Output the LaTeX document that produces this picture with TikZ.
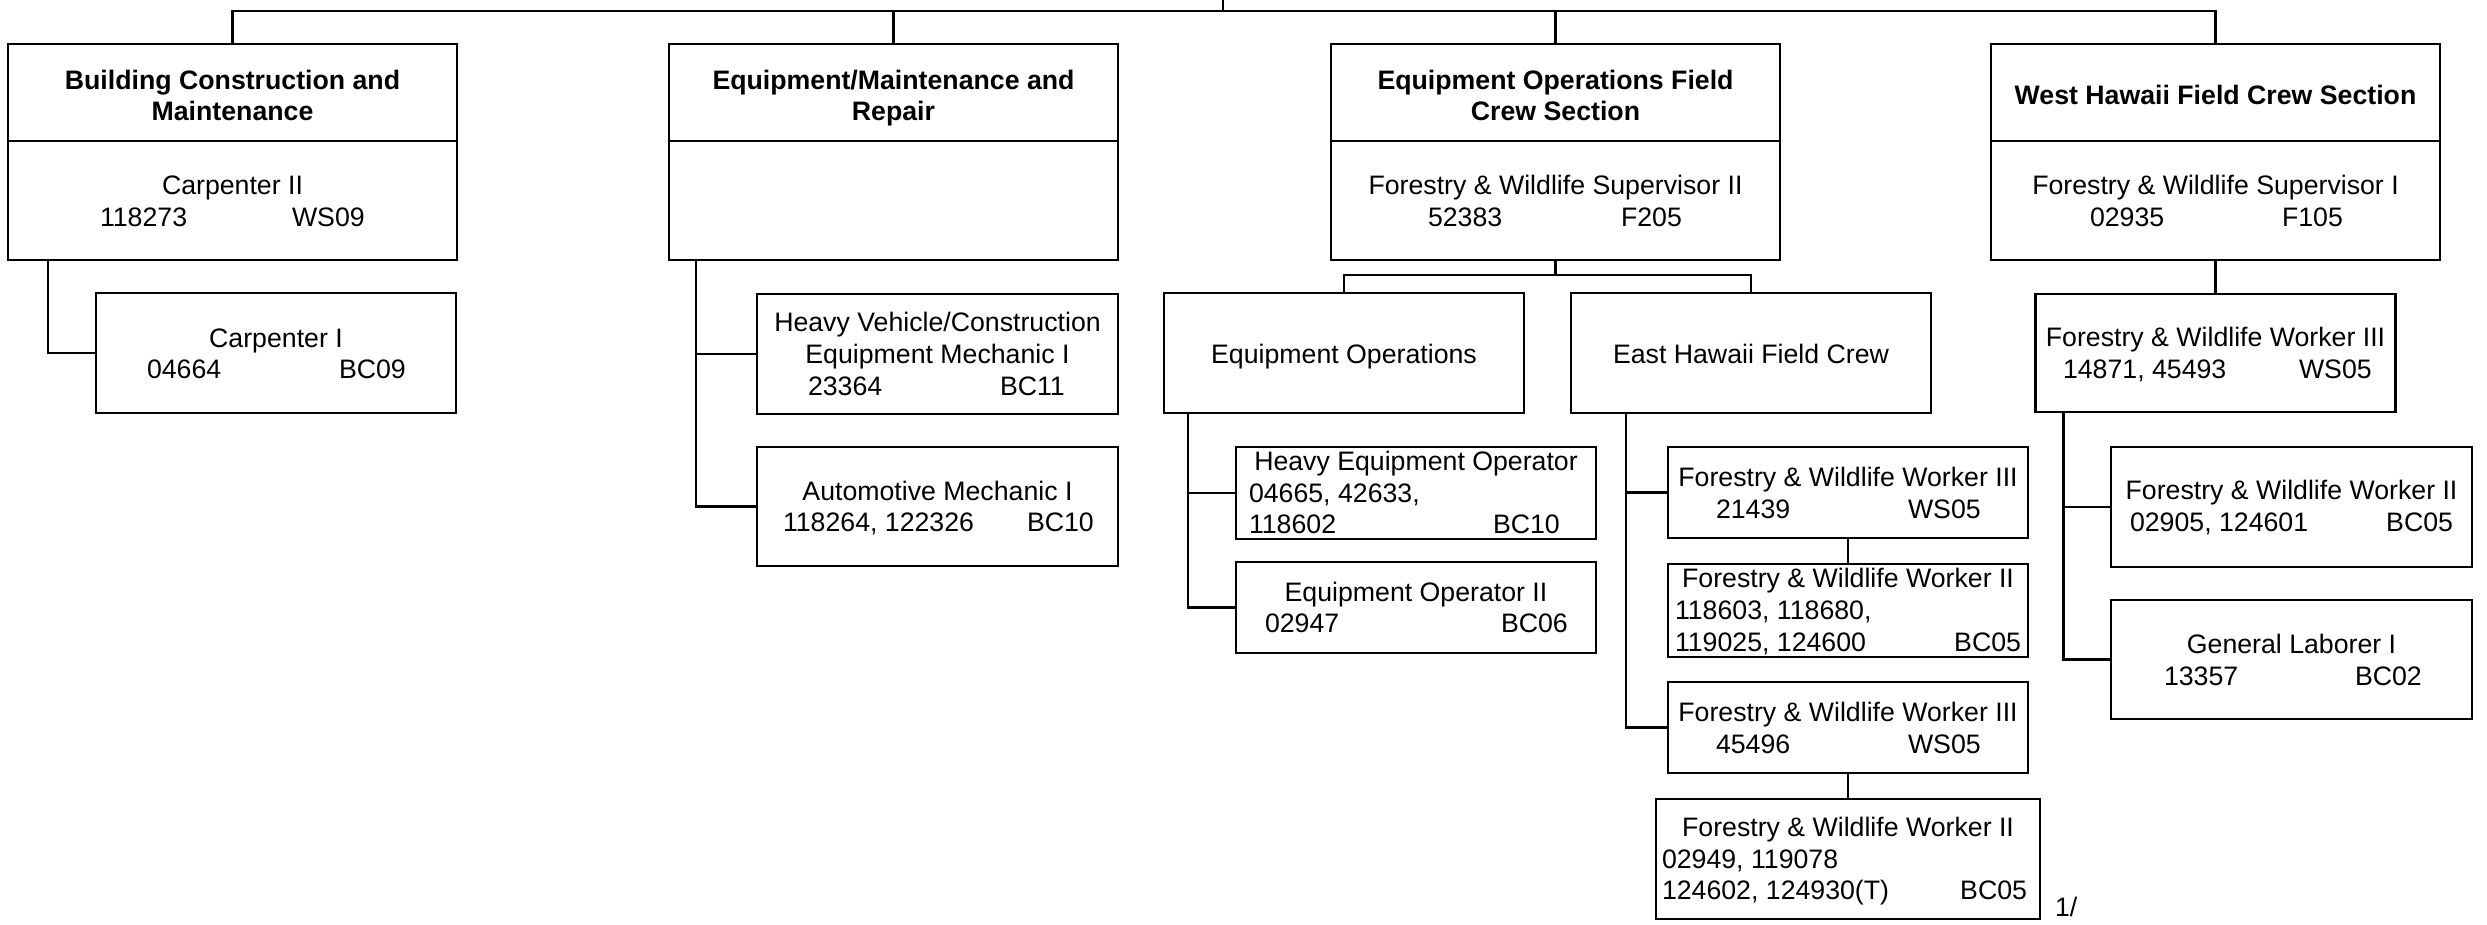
\documentclass[tikz,border=0pt]{standalone}
\usepackage{fontspec}
\setmainfont{Liberation Sans}
\begin{document}
\begin{tikzpicture}[x=1pt,y=-1pt,line width=2.7pt,
  box/.style={draw,rectangle,inner sep=0pt,outer sep=0pt},
  tx/.style={inner sep=0pt,outer sep=0pt,font=\fontsize{26.7}{32}\selectfont},
  tb/.style={inner sep=0pt,outer sep=0pt,font=\fontsize{26.7}{32}\selectfont\bfseries}]
\useasboundingbox (0,0) rectangle (2487,924);

% ---- section boxes ----
\node[box,minimum width=449pt,minimum height=97pt] (tA) at (232.5,92.5) {};
\node[box,minimum width=449pt,minimum height=119pt] (bA) at (232.5,200.5) {};
\node[box,minimum width=449pt,minimum height=97pt] (tB) at (893.5,92.5) {};
\node[box,minimum width=449pt,minimum height=119pt] (bB) at (893.5,200.5) {};
\node[box,minimum width=449pt,minimum height=97pt] (tC) at (1555.5,92.5) {};
\node[box,minimum width=449pt,minimum height=119pt] (bC) at (1555.5,200.5) {};
\node[box,minimum width=449pt,minimum height=97pt] (tD) at (2215.5,92.5) {};
\node[box,minimum width=449pt,minimum height=119pt] (bD) at (2215.5,200.5) {};

\node[tb,anchor=base] (tA1) at (232.5,89) {Building Construction and};
\node[tb,anchor=base] (tA2) at (232.5,120) {Maintenance};
\node[tx,anchor=base] (bA1) at (232.5,194) {Carpenter II};
\node[tx,anchor=base west] (bA2) at (100,226) {118273};
\node[tx,anchor=base west] (bA3) at (292,226) {WS09};

\node[tb,anchor=base] (tB1) at (893.5,89) {Equipment/Maintenance and};
\node[tb,anchor=base] (tB2) at (893.5,120) {Repair};

\node[tb,anchor=base] (tC1) at (1555.5,89) {Equipment Operations Field};
\node[tb,anchor=base] (tC2) at (1555.5,120) {Crew Section};
\node[tx,anchor=base] (bC1) at (1555.5,194) {Forestry \& Wildlife Supervisor II};
\node[tx,anchor=base west] (bC2) at (1428,226) {52383};
\node[tx,anchor=base west] (bC3) at (1621,226) {F205};

\node[tb,anchor=base] (tD1) at (2215.5,104) {West Hawaii Field Crew Section};
\node[tx,anchor=base] (bD1) at (2215.5,194) {Forestry \& Wildlife Supervisor I};
\node[tx,anchor=base west] (bD2) at (2090,226) {02935};
\node[tx,anchor=base west] (bD3) at (2282,226) {F105};

% ---- top bus ----
\coordinate (root) at (1223,0);
\coordinate (bus) at (1223,11);
\draw (root) -- (bus);
\draw (tA.north) |- (bus) -| (tD.north);
\draw (tB.north) -- (tB.north |- bus);
\draw (tC.north) -- (tC.north |- bus);

% ---- A children ----
\node[box,minimum width=360pt,minimum height=120pt] (cA) at (276,353) {};
\draw ([xshift=40pt]bA.south west) |- (cA.west);
\node[tx,anchor=base] (cA1) at (276,347) {Carpenter I};
\node[tx,anchor=base west] (cA2) at (147,378) {04664};
\node[tx,anchor=base west] (cA3) at (339,378) {BC09};

% ---- B children ----
\node[box,minimum width=361pt,minimum height=120pt] (hv) at (937.5,354) {};
\node[box,minimum width=361pt,minimum height=119pt] (au) at (937.5,506.5) {};
\draw ([xshift=27pt]bB.south west) |- (hv.west);
\draw ([xshift=27pt]bB.south west) |- (au.west);
\node[tx,anchor=base] (hv1) at (937.5,331) {Heavy Vehicle/Construction};
\node[tx,anchor=base] (hv2) at (937.5,363) {Equipment Mechanic I};
\node[tx,anchor=base west] (hv3) at (808,395) {23364};
\node[tx,anchor=base west] (hv4) at (1000,395) {BC11};
\node[tx,anchor=base] (au1) at (937.5,500) {Automotive Mechanic I};
\node[tx,anchor=base west] (au2) at (783,531) {118264, 122326};
\node[tx,anchor=base west] (au3) at (1027,531) {BC10};

% ---- C children ----
\node[box,minimum width=360pt,minimum height=120pt] (eo) at (1344,353) {};
\node[box,minimum width=360pt,minimum height=120pt] (eh) at (1751,353) {};
\coordinate (cbr) at (1555.5,275);
\draw (bC.south) -- (cbr);
\draw (eo.north) |- (cbr) -| (eh.north);
\node[tx,anchor=base] (eo1) at (1344,363) {Equipment Operations};
\node[tx,anchor=base] (eh1) at (1751,363) {East Hawaii Field Crew};

\node[box,minimum width=360pt,minimum height=92pt] (heo) at (1416,493) {};
\node[box,minimum width=360pt,minimum height=91pt] (eo2) at (1416,607.5) {};
\draw ([xshift=24pt]eo.south west) |- (heo.west);
\draw ([xshift=24pt]eo.south west) |- (eo2.west);
\node[tx,anchor=base] (heo1) at (1416,470) {Heavy Equipment Operator};
\node[tx,anchor=base west] (heo2) at (1249,502) {04665, 42633,};
\node[tx,anchor=base west] (heo3) at (1249,533) {118602};
\node[tx,anchor=base west] (heo4) at (1493,533) {BC10};
\node[tx,anchor=base] (eo21) at (1416,601) {Equipment Operator II};
\node[tx,anchor=base west] (eo22) at (1265,632) {02947};
\node[tx,anchor=base west] (eo23) at (1501,632) {BC06};

\node[box,minimum width=360pt,minimum height=91pt] (f3a) at (1848,492.5) {};
\node[box,minimum width=360pt,minimum height=93pt] (f2a) at (1848,610.5) {};
\node[box,minimum width=360pt,minimum height=91pt] (f3b) at (1848,727.5) {};
\node[box,minimum width=384pt,minimum height=120pt] (f2b) at (1848,859) {};
\draw ([xshift=55pt]eh.south west) |- (f3a.west);
\draw ([xshift=55pt]eh.south west) |- (f3b.west);
\draw (f3a.south) -- (f2a.north);
\draw (f3b.south) -- (f2b.north);
\node[tx,anchor=base] (f3a1) at (1848,486) {Forestry \& Wildlife Worker III};
\node[tx,anchor=base west] (f3a2) at (1716,518) {21439};
\node[tx,anchor=base west] (f3a3) at (1908,518) {WS05};
\node[tx,anchor=base] (f2a1) at (1848,587) {Forestry \& Wildlife Worker II};
\node[tx,anchor=base west] (f2a2) at (1675,619) {118603, 118680,};
\node[tx,anchor=base west] (f2a3) at (1675,651) {119025, 124600};
\node[tx,anchor=base east] (f2a4) at (2021,651) {BC05};
\node[tx,anchor=base] (f3b1) at (1848,721) {Forestry \& Wildlife Worker III};
\node[tx,anchor=base west] (f3b2) at (1716,753) {45496};
\node[tx,anchor=base west] (f3b3) at (1908,753) {WS05};
\node[tx,anchor=base] (f2b1) at (1848,836) {Forestry \& Wildlife Worker II};
\node[tx,anchor=base west] (f2b2) at (1662,868) {02949, 119078};
\node[tx,anchor=base west] (f2b3) at (1662,899) {124602, 124930(T)};
\node[tx,anchor=base east] (f2b4) at (2027,899) {BC05};
\node[tx,anchor=base west] (note) at (2055,916) {1/};

% ---- D children ----
\node[box,minimum width=360pt,minimum height=118pt] (f3c) at (2215.5,353) {};
\draw (bD.south) -- (f3c.north);
\node[box,minimum width=361pt,minimum height=120pt] (f2c) at (2291.5,507) {};
\node[box,minimum width=361pt,minimum height=119pt] (gl) at (2291.5,659.5) {};
\draw ([xshift=28pt]f3c.south west) |- (f2c.west);
\draw ([xshift=28pt]f3c.south west) |- (gl.west);
\node[tx,anchor=base] (f3c1) at (2215.5,346) {Forestry \& Wildlife Worker III};
\node[tx,anchor=base west] (f3c2) at (2063,378) {14871, 45493};
\node[tx,anchor=base west] (f3c3) at (2299,378) {WS05};
\node[tx,anchor=base] (f2c1) at (2291.5,499) {Forestry \& Wildlife Worker II};
\node[tx,anchor=base west] (f2c2) at (2130,531) {02905, 124601};
\node[tx,anchor=base east] (f2c3) at (2453,531) {BC05};
\node[tx,anchor=base] (gl1) at (2291.5,653) {General Laborer I};
\node[tx,anchor=base west] (gl2) at (2164,685) {13357};
\node[tx,anchor=base west] (gl3) at (2355,685) {BC02};
\end{tikzpicture}
\end{document}
